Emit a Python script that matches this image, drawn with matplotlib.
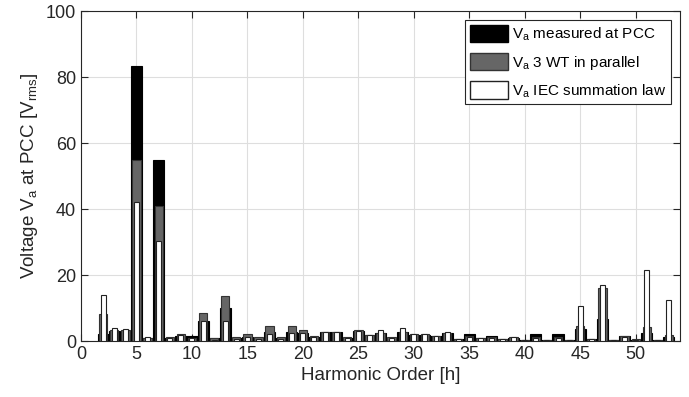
import matplotlib
matplotlib.use("Agg")
import matplotlib.pyplot as plt
import matplotlib.patches as mpatches
import numpy as np

plt.rcParams['font.family'] = ['Liberation Sans', 'DejaVu Sans']
plt.rcParams['mathtext.fontset'] = 'custom'
plt.rcParams['mathtext.rm'] = 'Liberation Sans'
plt.rcParams['mathtext.it'] = 'Liberation Sans'
plt.rcParams['mathtext.default'] = 'regular'

# harmonic orders 2..53
harm = np.arange(2, 54)

# V_a measured at PCC
v_meas = [2.0, 3.0, 2.5, 83.4, 0.8, 55.0, 0.8, 1.5, 1.5, 6.2, 0.8, 9.9, 1.0, 1.2, 1.0, 2.8,
          1.0, 2.8, 2.5, 1.3, 2.6, 2.6, 1.0, 3.0, 1.8, 2.3, 1.0, 2.6, 1.8, 1.8, 1.4, 2.3,
          0.5, 2.0, 0.8, 1.6, 0.5, 1.0, 0.3, 2.1, 0.3, 2.0, 0.3, 3.5, 0.5, 6.6, 0.3, 1.4,
          0.4, 2.4, 0.3, 1.3]
# V_a 3 WT in parallel
v_3wt = [8.1, 3.3, 3.3, 55.0, 1.0, 41.0, 1.2, 2.1, 1.0, 8.6, 0.8, 13.6, 1.3, 2.1, 1.3, 4.6,
         1.2, 4.7, 3.3, 1.5, 2.6, 2.6, 1.1, 3.2, 1.9, 2.4, 1.1, 2.6, 2.1, 2.1, 1.5, 2.4,
         0.5, 1.4, 0.8, 1.3, 0.5, 1.1, 0.3, 1.2, 0.3, 1.2, 0.3, 4.6, 0.5, 16.0, 0.3, 1.4,
         0.5, 4.3, 0.3, 1.8]
# V_a IEC summation law
v_iec = [13.9, 3.8, 3.6, 42.0, 1.3, 30.4, 1.0, 1.8, 1.0, 6.2, 0.4, 6.2, 0.5, 1.3, 0.6, 2.1,
         0.5, 2.3, 2.5, 1.1, 2.6, 2.6, 1.0, 3.0, 1.9, 3.4, 1.0, 3.8, 2.1, 2.1, 1.5, 2.6,
         0.5, 1.1, 0.8, 1.0, 0.5, 1.3, 0.3, 0.8, 0.3, 0.8, 0.3, 10.7, 0.5, 17.1, 0.3, 1.1,
         0.4, 21.4, 0.3, 12.4]

fig = plt.figure(figsize=(6.89, 3.97), dpi=100)
ax = fig.add_axes([0.1176, 0.141, 0.8694, 0.831])

ax.bar(harm, v_meas, width=1.0, color='black', edgecolor='black', linewidth=0.8, zorder=2)
ax.bar(harm, v_3wt, width=0.75, color='#666666', edgecolor='#333333', linewidth=0.8, zorder=3)
ax.bar(harm, v_iec, width=0.45, color='white', edgecolor='#222222', linewidth=0.8, zorder=4)

ax.set_xlim(0, 54)
ax.set_ylim(0, 100)
ax.set_xticks(np.arange(0, 55, 5))
ax.set_yticks(np.arange(0, 101, 20))
ax.grid(True, color='#dedede', linewidth=0.8, zorder=0)
ax.set_axisbelow(True)
ax.tick_params(direction='in', top=True, right=True, labelsize=13, length=5, width=0.8,
               colors='#262626')
for s in ax.spines.values():
    s.set_color('#262626')
    s.set_linewidth(0.8)

ax.set_xlabel('Harmonic Order [h]', fontsize=13.5, color='#262626', labelpad=3)
ax.set_ylabel('Voltage V$_a$ at PCC [V$_{rms}$]', fontsize=13.5, color='#262626', labelpad=4)

h1 = mpatches.Patch(facecolor='black', edgecolor='black', label='V$_a$ measured at PCC')
h2 = mpatches.Patch(facecolor='#666666', edgecolor='#333333', label='V$_a$ 3 WT in parallel')
h3 = mpatches.Patch(facecolor='white', edgecolor='#222222', label='V$_a$ IEC summation law')
leg = ax.legend(handles=[h1, h2, h3], loc='upper right', fontsize=11, fancybox=False,
                framealpha=1, edgecolor='#262626', handlelength=2.5, handleheight=1.35,
                handletextpad=0.25, borderpad=0.3, labelspacing=0.65, borderaxespad=0.6)
leg.get_frame().set_linewidth(0.8)

fig.savefig('out.png', dpi=100)
